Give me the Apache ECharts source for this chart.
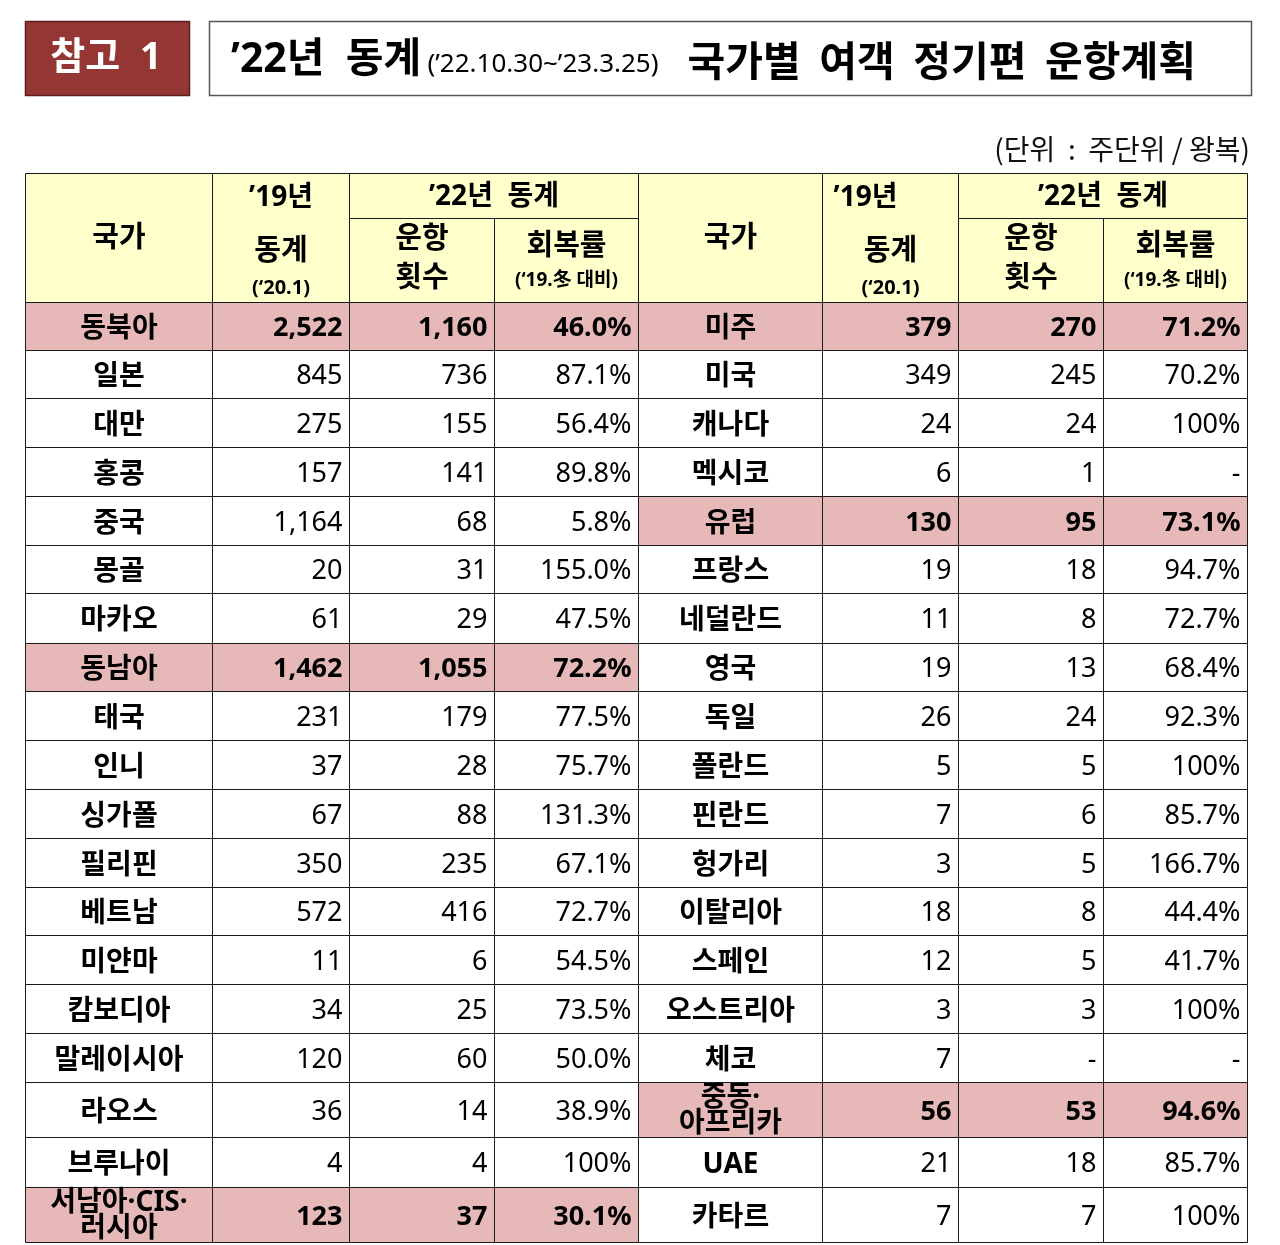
<!DOCTYPE html>
<html><head><meta charset="utf-8">
<script src="https://cdn.jsdelivr.net/npm/echarts@6/dist/echarts.min.js"></script>
<style>html,body{margin:0;padding:0;background:#fff}#c{width:1280px;height:1245px}</style>
</head><body><div id="c"></div>
<script>
// ---------- DATA ----------
const LEFT_NAMES = ['동북아','일본','대만','홍콩','중국','몽골','마카오','동남아','태국','인니','싱가폴','필리핀','베트남','미얀마','캄보디아','말레이시아','라오스','브루나이','서남아·CIS·\n러시아'];
const LEFT_2019 = [2522,845,275,157,1164,20,61,1462,231,37,67,350,572,11,34,120,36,4,123];
const LEFT_2022 = [1160,736,155,141,68,31,29,1055,179,28,88,235,416,6,25,60,14,4,37];
const LEFT_RATE = [46.0,87.1,56.4,89.8,5.8,155.0,47.5,72.2,77.5,75.7,131.3,67.1,72.7,54.5,73.5,50.0,38.9,100,30.1];
const LEFT_REGION_ROWS = [0,7,18];

const RIGHT_NAMES = ['미주','미국','캐나다','멕시코','유럽','프랑스','네덜란드','영국','독일','폴란드','핀란드','헝가리','이탈리아','스페인','오스트리아','체코','중동·\n아프리카','UAE','카타르'];
const RIGHT_2019 = [379,349,24,6,130,19,11,19,26,5,7,3,18,12,3,7,56,21,7];
const RIGHT_2022 = [270,245,24,1,95,18,8,13,24,5,6,5,8,5,3,null,53,18,7];
const RIGHT_RATE = [71.2,70.2,100,null,73.1,94.7,72.7,68.4,92.3,100,85.7,166.7,44.4,41.7,100,null,94.6,85.7,100];
const RIGHT_REGION_ROWS = [0,4,16];

const HEAD_COUNTRY = '국가';
const HEAD_Y19 = ['’19년','동계','(‘20.1)'];
const HEAD_Y22 = '’22년  동계';
const HEAD_OPS = ['운항','횟수'];
const HEAD_RATE = ['회복률','(‘19.冬 대비)'];

const BADGE = '참고  1';
const TITLE_MAIN = '’22년  동계';
const TITLE_PERIOD = '(’22.10.30~’23.3.25)';
const TITLE_REST = '국가별  여객  정기편  운항계획';
const UNIT_TEXT = '(단위  :  주단위 / 왕복)';

// ---------- LAYOUT (table-local units, px) ----------
const COL_EDGES = [0,187,324,469,613,797,933,1078,1222];
const HEAD_EDGES = [0,45,129];
const BODY_EDGES = [129,177,225,274,323,372,420,470,518,567,616,665,714,762,811,860,909,964,1014,1069];

const KR = "'Noto Sans CJK KR', sans-serif";
const NUM = "'Noto Sans', 'Noto Sans CJK KR', sans-serif";
const PINK = '#E6B9B8', YELLOW = '#FFFFCC', LINE = '#1a1a1a';

function fmtNum(v){ return v == null ? '-' : v.toLocaleString('en-US'); }
function fmtRate(v){ return v == null ? '-' : (v === 100 ? '100%' : v.toFixed(1) + '%'); }

// body cells
const cells = [];
[[LEFT_NAMES,LEFT_2019,LEFT_2022,LEFT_RATE,LEFT_REGION_ROWS],
 [RIGHT_NAMES,RIGHT_2019,RIGHT_2022,RIGHT_RATE,RIGHT_REGION_ROWS]].forEach((t, side) => {
  t[0].forEach((name, r) => {
    const g = t[4].includes(r);
    const texts = [name, fmtNum(t[1][r]), fmtNum(t[2][r]), fmtRate(t[3][r])];
    texts.forEach((tx, c) => cells.push({ value: [side*4 + c, r], text: tx, isName: c === 0, group: g }));
  });
});

// header cells
const heads = [];
[0,1].forEach(side => {
  const b = side*4;
  heads.push({ value:[b,0], span:1, r0:0, r1:2, lines:[{t:HEAD_COUNTRY, dy:65, fs:29}] });
  heads.push({ value:[b+1,0], span:1, r0:0, r1:2, lines:[{t:HEAD_Y19[0], dy:25, fs:28, dx: side ? -25 : 0},{t:HEAD_Y19[1], dy:78, fs:29},{t:HEAD_Y19[2], dy:115, fs:20}] });
  heads.push({ value:[b+2,0], span:2, r0:0, r1:1, lines:[{t:HEAD_Y22, dy:24, fs:28}] });
  heads.push({ value:[b+2,1], span:1, r0:1, r1:2, lines:[{t:HEAD_OPS[0], dy:21, fs:29},{t:HEAD_OPS[1], dy:60, fs:29}] });
  heads.push({ value:[b+3,1], span:1, r0:1, r1:2, lines:[{t:HEAD_RATE[0], dy:28, fs:29},{t:HEAD_RATE[1], dy:62, fs:19}] });
});

function rectOf(api, c0, c1, y0, y1){
  const p0 = api.coord([COL_EDGES[c0], y0]);
  const p1 = api.coord([COL_EDGES[c1], y1]);
  return { x: Math.round(p0[0]) + 0.5, y: Math.round(p0[1]) + 0.5,
           width: Math.round(p1[0]) - Math.round(p0[0]), height: Math.round(p1[1]) - Math.round(p0[1]) };
}

const chart = echarts.init(document.getElementById('c'), null, { renderer: 'canvas' });
chart.setOption({
  backgroundColor: '#fff',
  animation: false,
  grid: { left: 25, top: 173, width: 1222, height: 1072 },
  xAxis: { type: 'value', min: 0, max: 1222, show: false },
  yAxis: { type: 'value', min: 0, max: 1072, inverse: true, show: false },
  graphic: [
    { type: 'rect', shape: { x: 25.5, y: 21.5, width: 164, height: 74 }, style: { fill: '#943634', stroke: '#5c1f1e', lineWidth: 1.5 } },
    { type: 'text', style: { text: BADGE, x: 106, y: 58, align: 'center', verticalAlign: 'middle', fontSize: 38, fontWeight: 'bold', fontFamily: NUM, fill: '#fff' } },
    { type: 'rect', shape: { x: 209.5, y: 21.5, width: 1042, height: 74 }, style: { fill: '#fff', stroke: '#555', lineWidth: 1.5 } },
    { type: 'text', style: { text: TITLE_MAIN, x: 231, y: 60, align: 'left', verticalAlign: 'middle', fontSize: 41, fontWeight: 'bold', fontFamily: NUM, fill: '#000' } },
    { type: 'text', style: { text: TITLE_PERIOD, x: 543, y: 65, align: 'center', verticalAlign: 'middle', fontSize: 26, fontWeight: 'normal', fontFamily: NUM, fill: '#000' } },
    { type: 'text', style: { text: TITLE_REST, x: 1196, y: 60, align: 'right', verticalAlign: 'middle', fontSize: 41, fontWeight: 'bold', fontFamily: KR, fill: '#000' } },
    { type: 'text', style: { text: UNIT_TEXT, x: 1250, y: 149, align: 'right', verticalAlign: 'middle', fontSize: 28, fontWeight: 'normal', fontFamily: KR, fill: '#111' } }
  ],
  series: [
    {
      type: 'custom', coordinateSystem: 'cartesian2d', clip: false, silent: true,
      data: heads,
      renderItem: function (params, api) {
        const h = heads[params.dataIndex];
        const c = api.value(0);
        const r = rectOf(api, c, c + h.span, HEAD_EDGES[h.r0], HEAD_EDGES[h.r1]);
        const children = [{ type: 'rect', shape: r, style: { fill: YELLOW, stroke: LINE, lineWidth: 1 } }];
        h.lines.forEach(l => children.push({ type: 'text', style: {
          text: l.t, x: r.x + r.width / 2 + (l.dx || 0), y: r.y + l.dy, align: 'center', verticalAlign: 'middle',
          fontSize: l.fs, fontWeight: 'bold', fontFamily: NUM, fill: '#000' } }));
        return { type: 'group', children };
      }
    },
    {
      type: 'custom', coordinateSystem: 'cartesian2d', clip: false, silent: true,
      data: cells,
      renderItem: function (params, api) {
        const d = cells[params.dataIndex];
        const c = api.value(0), row = api.value(1);
        const r = rectOf(api, c, c + 1, BODY_EDGES[row], BODY_EDGES[row + 1]);
        const multi = d.text.indexOf('\n') >= 0;
        const txt = d.isName
          ? { text: d.text, x: r.x + r.width / 2, y: r.y + r.height / 2 + (multi ? 1 : 3), align: 'center', verticalAlign: 'middle',
              fontSize: 28, fontWeight: 'bold', fontFamily: NUM, fill: '#000', lineHeight: multi ? 26 : 34 }
          : { text: d.text, x: r.x + r.width - 7, y: r.y + r.height / 2 + 2, align: 'right', verticalAlign: 'middle',
              fontSize: 27, fontWeight: d.group ? 'bold' : 'normal', fontFamily: NUM, fill: '#000' };
        return { type: 'group', children: [
          { type: 'rect', shape: r, style: { fill: d.group ? PINK : '#fff', stroke: LINE, lineWidth: 1 } },
          { type: 'text', style: txt }
        ] };
      }
    }
  ]
});
</script>
</body></html>
